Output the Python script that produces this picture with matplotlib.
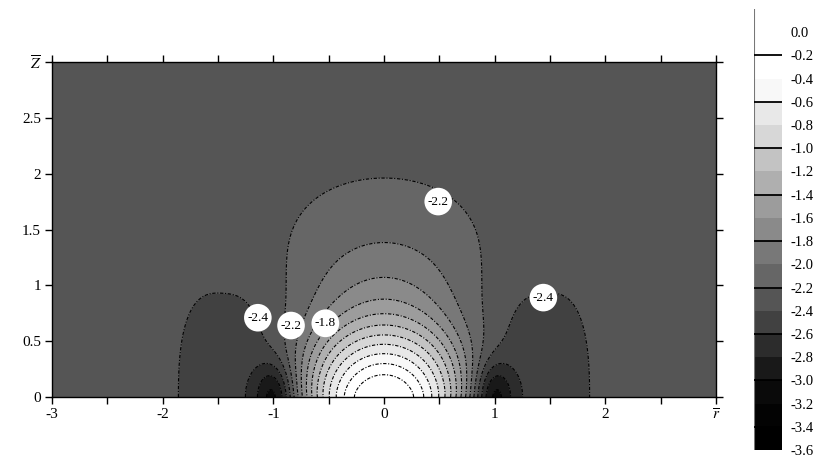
import numpy as np
import matplotlib
matplotlib.use("Agg")
import matplotlib.pyplot as plt

plt.rcParams["font.family"] = ["Liberation Serif", "DejaVu Serif"]
plt.rcParams["mathtext.fontset"] = "stix"

# contour levels (log10 of the field) and the grey of each band, bottom to top
levels = np.round(np.arange(-3.6, 0.21, 0.2), 1)
band_greys = ["#000000", "#030303", "#0a0a0a", "#191919", "#2c2c2c", "#414141",
              "#555555", "#666666", "#787878", "#8a8a8a", "#9c9c9c", "#afafaf",
              "#c3c3c3", "#d7d7d7", "#e8e8e8", "#f8f8f8", "#ffffff", "#ffffff",
              "#ffffff"]

# far-field level
bg_level = -2.3
# source on the axis: amplitude, decay length and exponent of each part
src_amp = [1.0, 0.124]
src_len = [0.28, 0.43]
src_pow = [1.5, 1.0]
# lateral spread of the source with height, a(z) = c0 + c1*z + c2*z^2
spread = [0.35, 0.12, 0.12]
# side depressions (decades): depth, centre, r-width, r-exponent, z-width, z-exponent
well_depth = [0.25, 0.68]
well_r = [1.45, 1.0]
well_rw = [0.42, 0.17]
well_rp = [3, 2]
well_zw = [0.97, 0.30]
well_zp = [2.5, 2]

# inline contour labels
label_vals = [-2.4, -2.2, -1.8, -2.2, -2.4]
label_r = [-1.14, -0.84, -0.53, 0.49, 1.44]
label_z = [0.71, 0.64, 0.66, 1.75, 0.89]

xtick_labels = ["-3", "", "-2", "", "-1", "", "0", "", "1", "", "2", "", r"$\overline{r}$"]
ytick_labels = ["0", "0.5", "1", "1.5", "2", "2.5", r"$\overline{Z}$"]

r = np.linspace(-3, 3, 721)
z = np.linspace(0, 3, 361)
R, Z = np.meshgrid(r, z)

width = spread[0] + spread[1] * Z + spread[2] * Z ** 2
on_axis = sum(a * np.exp(-(Z / l) ** p) for a, l, p in zip(src_amp, src_len, src_pow))
field = np.log10(10 ** bg_level + on_axis * np.exp(-(R / width) ** 2))
for d, rc, rw, rp, zw, zp in zip(well_depth, well_r, well_rw, well_rp, well_zw, well_zp):
    field -= d * np.exp(-(np.abs(np.abs(R) - rc) / rw) ** rp - (Z / zw) ** zp)

fig = plt.figure(figsize=(8.23, 4.61), dpi=100)
ax = fig.add_axes([52 / 823, 1 - 397 / 461, 664 / 823, 335 / 461])

cf = ax.contourf(R, Z, field, levels=levels, colors=band_greys)
line_levels = levels[(levels > -3.5) & (levels < -0.1)]
ax.contour(R, Z, field, levels=line_levels, colors="k", linewidths=0.8,
           linestyles=[(0, (3, 1.5, 1, 1.5))])

for v, lr, lz in zip(label_vals, label_r, label_z):
    ax.text(lr, lz, f"{v:.1f}", ha="center", va="center", fontsize=9.5,
            bbox=dict(boxstyle="circle,pad=0.25", fc="white", ec="none"))

ax.set_xlim(-3, 3)
ax.set_ylim(0, 3)
ax.set_xticks(np.arange(-3, 3.01, 0.5))
ax.set_xticklabels(xtick_labels)
ax.set_yticks(np.arange(0, 3.01, 0.5))
ax.set_yticklabels(ytick_labels)
ax.tick_params(direction="out", top=True, right=True, length=5, width=1,
               labelsize=11, pad=3)
for s in ax.spines.values():
    s.set_linewidth(1.0)

# colour bar
cax = fig.add_axes([754 / 823, 11 / 461, 28 / 823, 441 / 461])
cb = fig.colorbar(cf, cax=cax)
cb.outline.set_visible(False)
cb.set_ticks(levels[:-1])
cb.set_ticklabels([f"{v:.1f}" for v in levels[:-1]])
cax.tick_params(length=0, labelsize=10.5, pad=6)
cax.axvline(0, color="#777777", lw=1.5)
for v in np.arange(-3.4, -0.1, 0.4):
    cax.axhline(v, color="k", lw=1.3)

fig.savefig("out.png", dpi=100)
